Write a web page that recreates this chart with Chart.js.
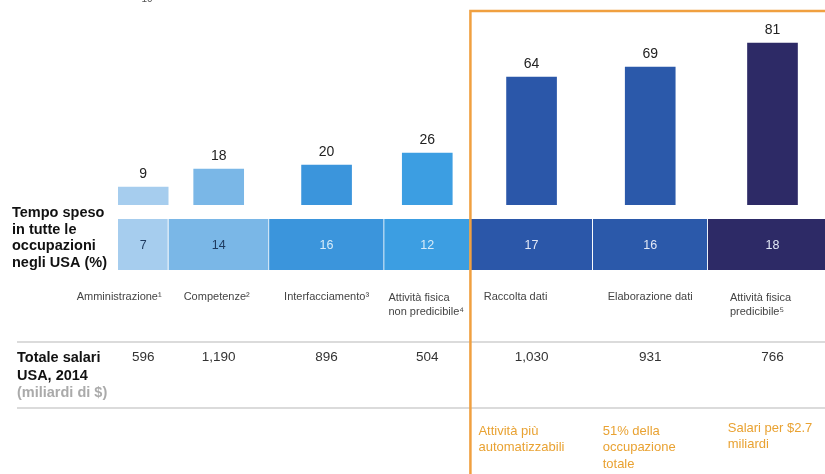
<!DOCTYPE html>
<html>
<head>
<meta charset="utf-8">
<script src="https://cdn.jsdelivr.net/npm/chart.js@4"></script>
<style>
  body { margin: 0; background: #fff; }
  #wrap { position: relative; width: 825px; height: 474px; overflow: hidden; }
  canvas { position: absolute; left: 0; }
  #cells { top: 219px; z-index: 1; }
  #main { top: 0; z-index: 2; }
</style>
</head>
<body>
<div id="wrap">
  <canvas id="cells" width="825" height="51"></canvas>
  <canvas id="main" width="825" height="474"></canvas>
</div>
<script>
// quota di tempo per attivita (%), potenziale di automazione (%), salari (mld $)
const categories = ['Amministrazione¹', 'Competenze²', 'Interfacciamento³', 'Attività fisica\nnon predicibile⁴', 'Raccolta dati', 'Elaborazione dati', 'Attività fisica\npredicibile⁵']
const shares = [7, 14, 16, 12, 17, 16, 18]
const automation = [9, 18, 20, 26, 64, 69, 81]
const wages = ['596', '1,190', '896', '504', '1,030', '931', '766']
const notes = [['Attività più', 'automatizzabili'], ['51% della', 'occupazione', 'totale'], ['Salari per $2.7', 'miliardi']]
const colors = ['#a6cdee', '#7ab7e7', '#3b95dc', '#3c9ee2', '#2b57a9', '#2b59aa', '#2d2a66']
const cellText = ['#1e3a5f', '#1e3a5f', '#d8ecf9', '#d8ecf9', '#e2e8f6', '#e2e8f6', '#e2e8f6']
const labelShift = [-24, -2, 0, -1, -16, 0, -12]
const noteShift = [8, 10, 20]

const FONT = "'Liberation Sans', Arial, sans-serif"
const XMAX = 98.3

// centri e bordi cumulativi delle colonne
let acc = 0
const centers = shares.map(s => { const c = acc + s / 2; acc += s; return c })
const firstAuto = 4
const boxStart = shares.slice(0, firstAuto).reduce((a, b) => a + b, 0)

//########## riga delle celle
const cellPlugin = {
  id: 'cellText',
  afterDatasetsDraw(chart) {
    const c = chart.ctx
    c.save()
    c.font = '12.5px ' + FONT
    c.textAlign = 'center'
    c.textBaseline = 'middle'
    chart.data.datasets.forEach((ds, i) => {
      const el = chart.getDatasetMeta(i).data[0]
      c.fillStyle = cellText[i]
      c.fillText(shares[i], (el.x + el.base) / 2, el.y + 1)
    })
    c.restore()
  }
}

new Chart(document.getElementById('cells'), {
  type: 'bar',
  data: {
    labels: ['tempo'],
    datasets: shares.map((s, i) => ({
      data: [s],
      backgroundColor: colors[i],
      borderColor: '#ffffff',
      borderWidth: { left: 0, right: 1, top: 0, bottom: 0 },
      borderSkipped: false
    }))
  },
  options: {
    indexAxis: 'y',
    responsive: false,
    animation: false,
    layout: { padding: { left: 118, right: 0, top: 0, bottom: 0 } },
    datasets: { bar: { barPercentage: 1, categoryPercentage: 1 } },
    scales: {
      x: { type: 'linear', min: 0, max: XMAX, stacked: true, display: false },
      y: { stacked: true, display: false }
    },
    plugins: { legend: { display: false }, tooltip: { enabled: false } }
  },
  plugins: [cellPlugin]
})

//########## barre + testi
function lines(c, arr, x, y, lh) {
  arr.forEach((t, i) => c.fillText(t, x, y + i * lh))
}

const textPlugin = {
  id: 'texts',
  afterDatasetsDraw(chart) {
    const c = chart.ctx
    const xs = chart.scales.x
    c.save()

    // valori sopra le barre
    c.font = '14px ' + FONT
    c.fillStyle = '#222'
    c.textAlign = 'center'
    c.textBaseline = 'bottom'
    chart.getDatasetMeta(0).data.forEach((el, i) => {
      c.fillText(automation[i], el.x, el.y - 6)
    })

    // nota tagliata in alto
    c.font = '10px ' + FONT
    c.fillStyle = '#555'
    c.fillText('10', 147, 4)

    // etichette a sinistra
    c.textAlign = 'left'
    c.textBaseline = 'middle'
    c.font = 'bold 14.5px ' + FONT
    c.fillStyle = '#111'
    lines(c, ['Tempo speso', 'in tutte le', 'occupazioni', 'negli USA (%)'], 12, 213, 16.5)
    lines(c, ['Totale salari', 'USA, 2014'], 17, 358, 17.5)
    c.fillStyle = '#aaa'
    c.fillText('(miliardi di $)', 17, 393)

    // categorie
    c.font = '11px ' + FONT
    c.fillStyle = '#444'
    categories.forEach((lab, i) => {
      const parts = lab.split('\n')
      const cx = xs.getPixelForValue(centers[i]) + labelShift[i]
      const w = Math.max(...parts.map(p => c.measureText(p).width))
      lines(c, parts, cx - w / 2, parts.length > 1 ? 298 : 297, 14)
    })

    // linee tabella salari
    c.strokeStyle = '#cfcfcf'
    c.lineWidth = 1.5
    ;[342, 408].forEach(y => {
      c.beginPath(); c.moveTo(17, y); c.lineTo(825, y); c.stroke()
    })

    // salari
    c.font = '13.5px ' + FONT
    c.fillStyle = '#333'
    c.textAlign = 'center'
    wages.forEach((w, i) => c.fillText(w, xs.getPixelForValue(centers[i]), 357))

    // riquadro arancione
    const bx = xs.getPixelForValue(boxStart)
    c.strokeStyle = '#f0a040'
    c.lineWidth = 2.5
    c.beginPath()
    c.moveTo(bx, 480); c.lineTo(bx, 11); c.lineTo(830, 11)
    c.stroke()

    // note arancioni
    c.font = '13px ' + FONT
    c.fillStyle = '#e9a232'
    c.textAlign = 'left'
    notes.forEach((n, k) => {
      const i = firstAuto + k
      const x0 = xs.getPixelForValue(centers[i] - shares[i] / 2) + noteShift[k]
      lines(c, n, x0, k === 2 ? 428 : 431, 16.5)
    })
    c.restore()
  }
}

new Chart(document.getElementById('main'), {
  type: 'bar',
  data: {
    datasets: [{
      data: centers.map((c, i) => ({ x: c, y: automation[i] })),
      backgroundColor: colors,
      barThickness: 50
    }]
  },
  options: {
    responsive: false,
    animation: false,
    layout: { padding: { left: 118, right: 0, top: 5, bottom: 269 } },
    scales: {
      x: { type: 'linear', min: 0, max: XMAX, offset: false, display: false },
      y: { min: 0, max: 100, display: false }
    },
    plugins: { legend: { display: false }, tooltip: { enabled: false } }
  },
  plugins: [textPlugin]
})
</script>
</body>
</html>
